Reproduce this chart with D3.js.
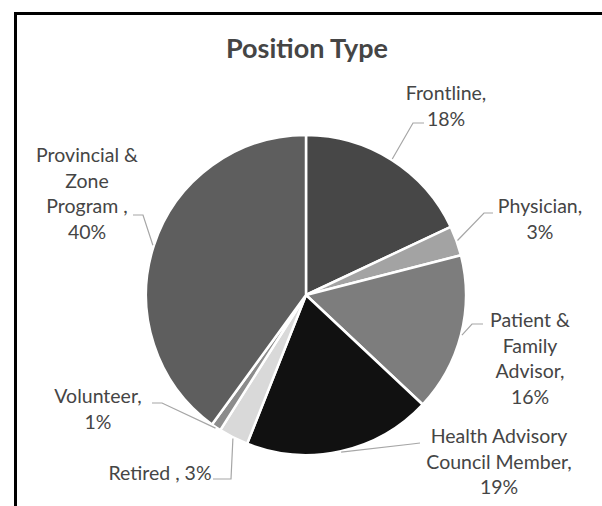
<!DOCTYPE html>
<html>
<head>
<meta charset="utf-8">
<script src="https://cdn.jsdelivr.net/npm/d3@7"></script>
<style>
  body { margin: 0; background: #fff; }
  svg { display: block; font-family: Lato, "Open Sans", sans-serif; }
  .label { font-size: 19.5px; fill: #454545; }
  .title { font-size: 27px; font-weight: bold; fill: #454545; }
</style>
</head>
<body>
<svg width="602" height="506"></svg>
<script>
// data
const categories = ["Frontline", "Physician", "Patient & Family Advisor",
  "Health Advisory Council Member", "Retired ", "Volunteer", "Provincial & Zone Program "];
const values = [18, 3, 16, 19, 3, 1, 40];
const colors = ["#474747", "#a3a3a3", "#7d7d7d", "#111111", "#d9d9d9", "#8c8c8c", "#5e5e5e"];

// label layout: words per line, centre x, first baseline, leader start points
const labelLayout = [
  { breaks: [1, 1],       x: 446, y: 100, lead: [[424, 123], [413, 123]] },
  { breaks: [1, 1],       x: 540, y: 213, lead: [[493, 213], [484, 213]] },
  { breaks: [2, 1, 1, 1], x: 530, y: 327, lead: [[483, 324], [472, 324]] },
  { breaks: [2, 2, 1],    x: 499, y: 443, lead: [[420, 443], [412, 444]] },
  { breaks: [3],          x: 160, y: 480, lead: [[213, 479], [231, 479]] },
  { breaks: [1, 1],       x: 98,  y: 403, lead: [[152, 403], [162, 403]] },
  { breaks: [2, 1, 2, 1], x: 87,  y: 162, lead: [[133, 215], [143, 215]] }
];

const cx = 306, cy = 295, radius = 160, lineH = 25.5;

const svg = d3.select("svg");

// chart frame: only left and top edges are inside the picture
svg.append("path")
  .attr("d", "M15.5,506 L15.5,13.5 L602,13.5")
  .attr("fill", "none")
  .attr("stroke", "#000")
  .attr("stroke-width", 3);

svg.append("text")
  .attr("class", "title")
  .attr("x", cx + 1)
  .attr("y", 58)
  .attr("text-anchor", "middle")
  .text("Position Type");

const data = categories.map((c, i) => ({ name: c, value: values[i], color: colors[i] }));

const pie = d3.pie().sort(null).value(d => d.value);
const arcs = pie(data);

const arc = d3.arc().innerRadius(0).outerRadius(radius);
const edge = d3.arc().innerRadius(radius + 1).outerRadius(radius + 1);

const g = svg.append("g").attr("transform", `translate(${cx},${cy})`);

g.selectAll(".slice")
  .data(arcs)
  .enter()
  .append("path")
  .attr("class", "slice")
  .attr("d", arc)
  .attr("fill", d => d.data.color)
  .attr("stroke", "#fff")
  .attr("stroke-width", 2.5)
  .attr("stroke-linejoin", "round");

// leader lines
svg.selectAll(".leader")
  .data(arcs)
  .enter()
  .append("polyline")
  .attr("class", "leader")
  .attr("fill", "none")
  .attr("stroke", "#a6a6a6")
  .attr("stroke-width", 1.2)
  .attr("points", (d, i) => {
    const [ex, ey] = edge.centroid(d);
    const pts = labelLayout[i].lead.concat([[cx + ex, cy + ey]]);
    return pts.map(p => p.join(",")).join(" ");
  });

// labels
arcs.forEach((d, i) => {
  const lay = labelLayout[i];
  const words = `${d.data.name}, ${d.data.value}%`.split(" ").filter(w => w.length);
  const lines = [];
  let k = 0;
  lay.breaks.forEach(n => {
    lines.push(words.slice(k, k + n).join(" "));
    k += n;
  });
  const t = svg.append("text")
    .attr("class", "label")
    .attr("text-anchor", "middle");
  lines.forEach((ln, j) => {
    t.append("tspan")
      .attr("x", lay.x)
      .attr("y", lay.y + j * lineH)
      .text(ln);
  });
});
</script>
</body>
</html>
